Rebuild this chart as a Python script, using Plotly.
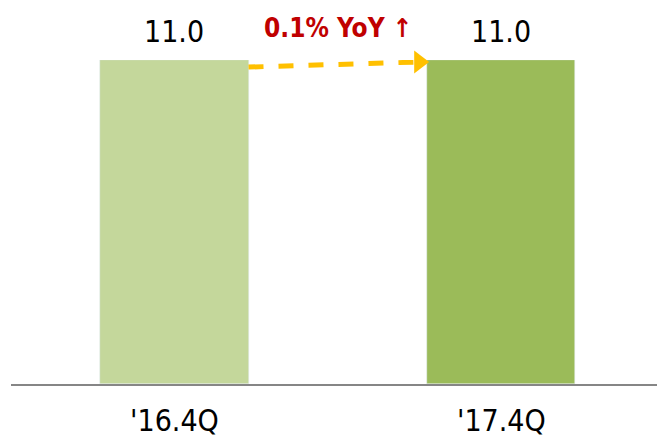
import plotly.graph_objects as go

quarters = ["'16.4Q", "'17.4Q"]
values = [11.0, 11.0]
bar_colors = ["#C4D79B", "#9BBB59"]
yoy_text = "0.1% YoY ↑"

FONT = "DejaVu Sans Condensed, DejaVu Sans, sans-serif"
BAR_W = 0.453

fig = go.Figure()

fig.add_trace(go.Bar(
    x=[0, 1],
    y=values,
    width=BAR_W,
    marker_color=bar_colors,
    hoverinfo="skip",
))

# value labels above bars
for i, v in enumerate(values):
    fig.add_annotation(
        x=i, y=v, xref="x", yref="y",
        text=f"{v:.1f}", showarrow=False,
        yanchor="bottom", yshift=9,
        font={"size": 30, "color": "#000000", "family": FONT},
    )

# dashed yoy arrow between bar tops
x0 = 0 + BAR_W / 2
x1 = 1 - BAR_W / 2
y0 = values[0] - 0.24
y1 = values[1] - 0.07
fig.add_trace(go.Scatter(
    x=[x0, x1 - 0.03],
    y=[y0, y1],
    mode="lines",
    line={"color": "#FFC000", "width": 5, "dash": "dash"},
    hoverinfo="skip",
    cliponaxis=False,
))
fig.add_trace(go.Scatter(
    x=[x1 - 0.025],
    y=[y1],
    mode="markers",
    marker={"symbol": "triangle-right", "size": 20, "color": "#FFC000", "line": {"width": 0}},
    hoverinfo="skip",
    cliponaxis=False,
))

fig.add_annotation(
    x=0.5, y=values[0], xref="x", yref="y",
    text=yoy_text, showarrow=False,
    yanchor="bottom", yshift=15,
    font={"size": 26, "color": "#C00000", "family": FONT, "weight": 600},
)

fig.update_layout(
    width=657, height=438,
    plot_bgcolor="#ffffff", paper_bgcolor="#ffffff",
    margin={"l": 11, "r": 0, "t": 60, "b": 54},
    showlegend=False,
    bargap=0,
    xaxis={
        "range": [-0.5, 1.476],
        "tickvals": [0, 1],
        "ticktext": quarters,
        "tickfont": {"size": 30, "color": "#000000", "family": FONT},
        "showline": True, "linecolor": "#868686", "linewidth": 2,
        "ticks": "outside", "ticklen": 9, "tickcolor": "rgba(0,0,0,0)",
        "showgrid": False, "zeroline": False,
        "automargin": False,
    },
    yaxis={
        "range": [0, 11],
        "visible": False,
        "showgrid": False,
        "zeroline": False,
    },
)

fig.write_html(
    "out.html",
    config={"displayModeBar": False},
    post_script="document.body.style.margin='0';",
)
